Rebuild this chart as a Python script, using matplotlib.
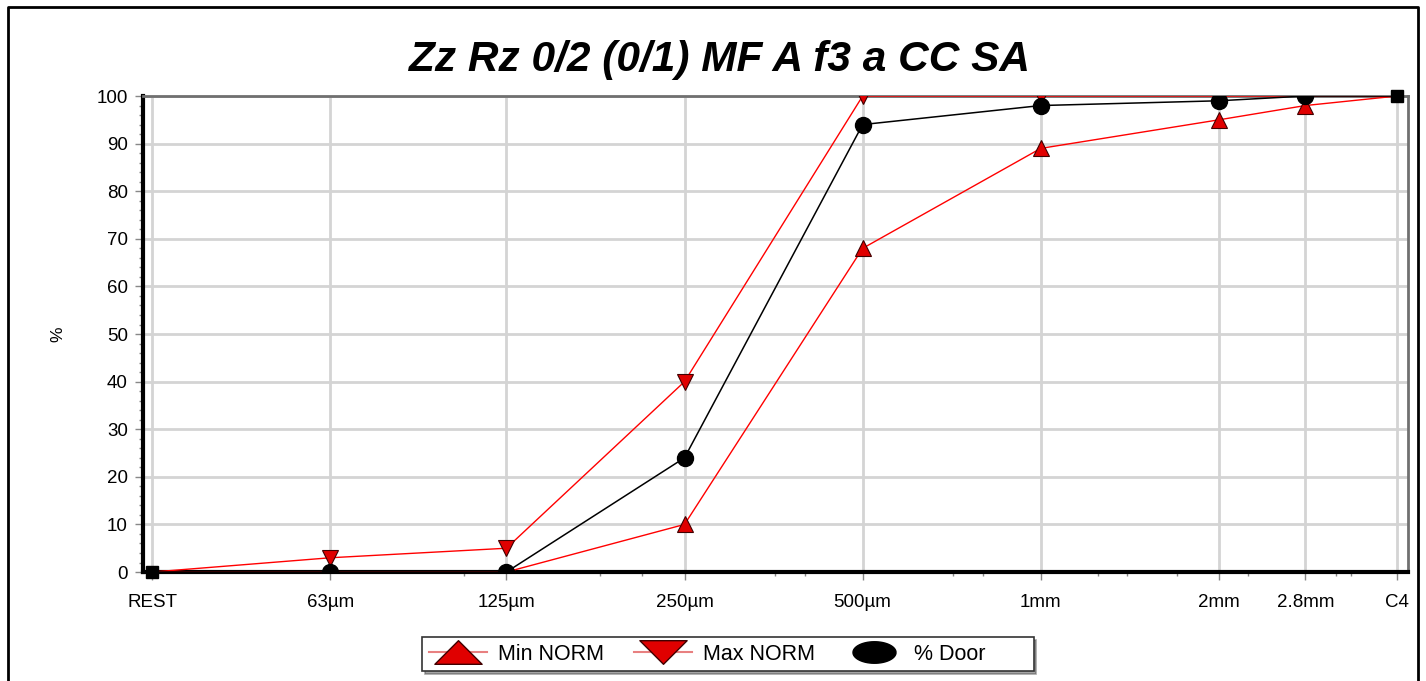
import numpy as np
import matplotlib
matplotlib.use("Agg")
import matplotlib.pyplot as plt
from matplotlib.lines import Line2D
from matplotlib.path import Path

plt.rcParams['font.family'] = ['Liberation Sans', 'DejaVu Sans']

# zeefmaten (mm) en labels
sizes = [0.0315, 0.063, 0.125, 0.25, 0.5, 1.0, 2.0, 2.8, 4.0]
labels = ['REST', '63µm', '125µm', '250µm', '500µm', '1mm', '2mm', '2.8mm', 'C4']
minor_sizes = [0.106, 0.18, 0.212, 0.355, 0.4, 0.71, 0.8, 1.25, 1.4, 1.7, 2.24, 3.15, 3.35]

# doorval in %
min_norm = [0, 0, 0, 10, 68, 89, 95, 98, 100]
max_norm = [0, 3, 5, 40, 100, 100, 100, 100, 100]
door = [0, 0, 0, 24, 94, 98, 99, 100, 100]

fig = plt.figure(figsize=(14.26, 6.81), dpi=100)
ax = fig.add_axes([0.1003, 0.160, 0.8871, 0.699])

red = '#ff0000'
inner = list(range(1, len(sizes) - 1))

ax.plot(sizes, max_norm, color=red, lw=1.0, marker='v', markersize=12,
        markerfacecolor='#e00000', markeredgecolor='#400000', markeredgewidth=0.8,
        markevery=inner, zorder=3)
ax.plot(sizes, min_norm, color=red, lw=1.0, marker='^', markersize=12,
        markerfacecolor='#e00000', markeredgecolor='#400000', markeredgewidth=0.8,
        markevery=inner, zorder=3)
ax.plot(sizes, door, color='black', lw=1.1, marker='o', markersize=11.5,
        markerfacecolor='black', markeredgecolor='black',
        markevery=inner, zorder=4)
# eindpunten als vierkantjes
ends = [0, len(sizes) - 1]
ax.plot([sizes[i] for i in ends], [door[i] for i in ends], ls='none', marker='s',
        markersize=9, color='black', zorder=5, clip_on=False)

ax.set_xscale('log')
ax.set_xlim(0.0304, 4.175)
ax.set_ylim(0, 100)

ax.set_xticks(sizes)
ax.set_xticklabels(labels)
ax.set_xticks(minor_sizes, minor=True)
ax.set_xticklabels([], minor=True)
ax.set_yticks(np.arange(0, 101, 10))
ax.set_yticks(np.arange(0, 101, 2), minor=True)

ax.tick_params(axis='both', which='major', direction='out', length=6, width=1,
               color='#888888', labelsize=13.5)
ax.tick_params(axis='x', which='major', pad=10)
ax.tick_params(axis='y', which='major', pad=5)
ax.tick_params(axis='both', which='minor', direction='out', length=3, width=1,
               color='#888888')
ax.grid(True, which='major', color='#d4d4d4', lw=2)
ax.set_axisbelow(True)

for s in ['left', 'bottom']:
    ax.spines[s].set_linewidth(3)
    ax.spines[s].set_color('black')
for s in ['top', 'right']:
    ax.spines[s].set_linewidth(2)
    ax.spines[s].set_color('#707070')

ax.set_ylabel('%', fontsize=12.5, labelpad=22)
fig.text(720 / 1426, 1 - 60 / 681, 'Zz Rz 0/2 (0/1) MF A f3 a CC SA', fontsize=30.5,
         fontweight='bold', fontstyle='italic', ha='center', va='center')

# brede legendasymbolen
tri_up = Path([(-1, -0.5), (1, -0.5), (0, 0.5), (-1, -0.5)],
              [Path.MOVETO, Path.LINETO, Path.LINETO, Path.CLOSEPOLY])
tri_dn = Path([(-1, 0.5), (1, 0.5), (0, -0.5), (-1, 0.5)],
              [Path.MOVETO, Path.LINETO, Path.LINETO, Path.CLOSEPOLY])
t = np.linspace(0, 2 * np.pi, 60)
ell = Path(np.column_stack([np.cos(t), 0.5 * np.sin(t)]))

handles = [
    Line2D([], [], color='#e88080', lw=1.5, marker=tri_up, markersize=34,
           markerfacecolor='#e00000', markeredgecolor='#400000'),
    Line2D([], [], color='#e88080', lw=1.5, marker=tri_dn, markersize=34,
           markerfacecolor='#e00000', markeredgecolor='#400000'),
    Line2D([], [], color='black', lw=0, marker=ell, markersize=31,
           markerfacecolor='black'),
]
leg = fig.legend(handles, ['Min NORM', 'Max NORM', '% Door       '], loc='center',
                 bbox_to_anchor=(728 / 1426, 1 - 654 / 681), ncol=3, fontsize=15.5,
                 frameon=True, fancybox=False, shadow=True, handlelength=2.7,
                 columnspacing=1.4, handletextpad=0.5, borderpad=0.3,
                 borderaxespad=0.2)
leg.get_frame().set_edgecolor('#333333')
leg.get_frame().set_linewidth(1.2)

# rand rond de figuur
x0, x1, y0 = 8 / 1426, 1418 / 1426, 1 - 7 / 681
fig.add_artist(Line2D([x0, x0, x1, x1], [0, y0, y0, 0], color='black', lw=2,
                      transform=fig.transFigure))

fig.savefig('out.png', dpi=100)
